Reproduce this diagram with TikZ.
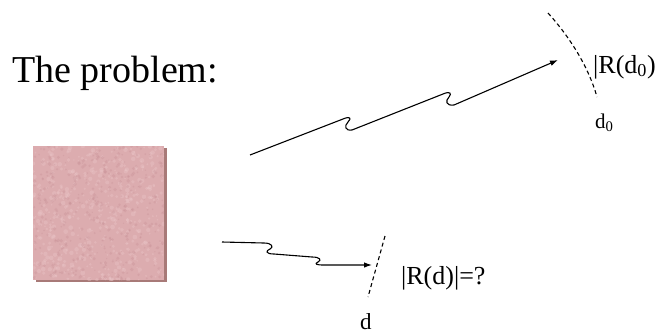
\documentclass[tikz,border=0pt]{standalone}
\usepackage{fontspec}
\setmainfont{Liberation Serif}
\usetikzlibrary{arrows.meta}
\definecolor{pinkbox}{RGB}{220,172,175}
\definecolor{pinkdark}{RGB}{198,142,148}
\definecolor{pinklight}{RGB}{236,200,202}
\definecolor{boxshadow}{RGB}{168,122,120}
\begin{document}
\begin{tikzpicture}[x=1pt,y=-1pt,
  wave/.style={line width=1.1pt, line join=round, -{Latex[length=8pt,width=5.5pt]}},
  front/.style={dash pattern=on 4pt off 3pt, line width=1.1pt},
  lbl/.style={inner sep=0pt, anchor=base west}]
\useasboundingbox (0,0) rectangle (658,335);
\fill[white] (0,0) rectangle (658,335);
% title
\node[lbl, font=\fontsize{38}{40}\selectfont] (title) at (12,82) {The problem:};
% mottled square with shadow
\fill[boxshadow] (36,148) rectangle (167,282);
\fill[pinkbox] (33,146) rectangle (164,280);
\pgfmathsetseed{7}
\begin{scope}
\clip (33,146) rectangle (164,280);
\foreach \i in {1,...,500} {
  \pgfmathsetmacro\xx{33+131*rnd}
  \pgfmathsetmacro\yy{146+134*rnd}
  \pgfmathsetmacro\rr{0.8+1.6*rnd}
  \fill[pinklight,opacity=0.35] (\xx,\yy) circle (\rr pt);
}
\foreach \i in {1,...,400} {
  \pgfmathsetmacro\xx{33+131*rnd}
  \pgfmathsetmacro\yy{146+134*rnd}
  \pgfmathsetmacro\rr{0.6+1.4*rnd}
  \fill[pinkdark,opacity=0.3] (\xx,\yy) circle (\rr pt);
}
\end{scope}
\node[inner sep=0pt, minimum width=131pt, minimum height=134pt] (box) at (98.5,213) {};
% far wave
\coordinate (s1) at (250,155);
\coordinate (e1) at (558,60);
\draw[wave] (s1) -- (343,119) .. controls (350,116) and (352,118) .. (348,122)
  .. controls (344,126) and (345,131) .. (352,130)
  -- (443,94) .. controls (450,91) and (452,93) .. (449,97)
  .. controls (445,101) and (446,106) .. (454,105) -- (e1);
% far front
\coordinate (f1) at (548,13);
\coordinate (f2) at (597,97);
\draw[front] (f1) .. controls (568,35) and (588,65) .. (f2);
\node[lbl, font=\fontsize{26}{28}\selectfont] (r0) at (593,73) {|R(d\textsubscript{0})};
\node[lbl, font=\fontsize{21}{23}\selectfont] (d0) at (595,128) {d\textsubscript{0}};
% near wave
\coordinate (s2) at (222,242);
\coordinate (e2) at (372,265);
\draw[wave] (s2) -- (264,243) .. controls (272,243) and (274,247) .. (270,249)
  .. controls (265,251) and (266,254) .. (274,254)
  -- (312,257) .. controls (320,257) and (322,260) .. (318,262)
  .. controls (314,264) and (316,265) .. (324,265) -- (e2);
% near front
\coordinate (g1) at (385,236);
\coordinate (g2) at (368,297);
\draw[front] (g1) -- (g2);
\node[lbl, font=\fontsize{26}{28}\selectfont] (rd) at (401,284) {|R(d)|=?};
\node[lbl, font=\fontsize{23}{25}\selectfont] (d) at (360,329) {d};
\end{tikzpicture}
\end{document}
